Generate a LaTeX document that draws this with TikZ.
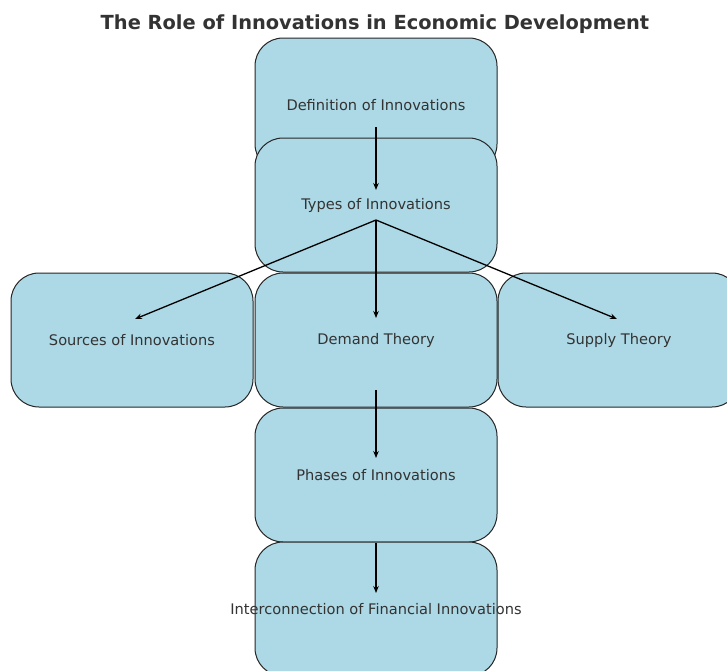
\documentclass[tikz,border=0pt]{standalone}
\usepackage{fontspec}
\setmainfont{DejaVu Sans}
\usetikzlibrary{arrows.meta, positioning}

\definecolor{boxblue}{HTML}{ADD8E6}
\definecolor{inkgray}{HTML}{333333}

\begin{document}
\begin{tikzpicture}[x=1pt, y=-1pt,
    topic/.style={draw=black!85, line width=1pt, fill=boxblue, rounded corners=28pt,
        minimum width=242pt, minimum height=134pt, text=inkgray, font=\fontsize{14.6}{17}\selectfont},
    link/.style={draw=black, line width=1.3pt, -{Stealth[length=7pt, width=5.5pt]}}]
\useasboundingbox (0,0) rectangle (727,670);
\clip (0,0) rectangle (727,670);
\fill[white] (0,0) rectangle (727,670);

\node[text=inkgray, font=\fontsize{19.4}{23}\bfseries\selectfont] (title) at (375,24) {The Role of Innovations in Economic Development};

\node[topic] (definition) at (376,105) {Definition of Innovations};
\node[topic] (types) at (376,205) {Types of Innovations};
\node[topic] (sources) at (132,340) {Sources of Innovations};
\node[topic] (demand) at (376,340) {Demand Theory};
\node[topic] (supply) at (619,340) {Supply Theory};
\node[topic] (phases) at (376,475) {Phases of Innovations};
% label runs past the box edges
\node[topic] (financial) at (376,609) {\makebox[0pt][c]{Interconnection of Financial Innovations}};

\draw[link] ([yshift=-22pt]definition.center) -- ([yshift=15pt]types.center);
\draw[link] ([yshift=-15pt]types.center) -- ([xshift=3pt, yshift=21pt]sources.center);
\draw[link] ([yshift=-15pt]types.center) -- ([yshift=22pt]demand.center);
\draw[link] ([yshift=-15pt]types.center) -- ([xshift=-2pt, yshift=21pt]supply.center);
\draw[link] ([yshift=-50pt]demand.center) -- ([yshift=17pt]phases.center);
\draw[link] ([yshift=-68pt]phases.center) -- ([yshift=16pt]financial.center);

\end{tikzpicture}
\end{document}
